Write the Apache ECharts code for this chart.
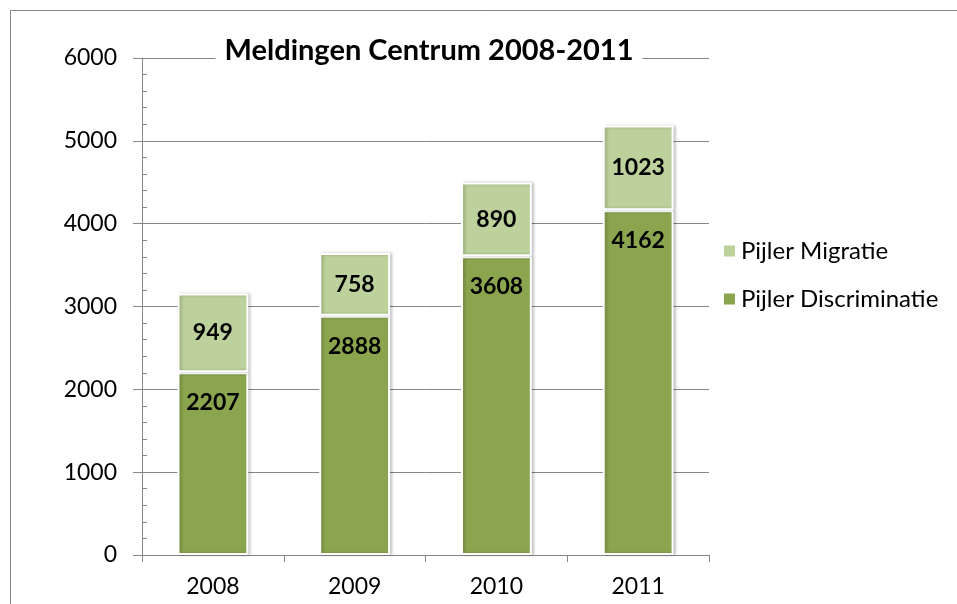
<!DOCTYPE html>
<html>
<head>
<meta charset="utf-8">
<script src="https://cdn.jsdelivr.net/npm/echarts@6/dist/echarts.min.js"></script>
<style>
  html, body { margin: 0; padding: 0; background: #fff; }
  #main { width: 957px; height: 604px; }
</style>
</head>
<body>
<div id="main"></div>
<script>
const years = ['2008', '2009', '2010', '2011'];
const discriminatie = [2207, 2888, 3608, 4162];
const migratie = [949, 758, 890, 1023];
const yTicks = { min: 0, max: 6000, interval: 1000 };

const font = 'Lato, "Open Sans", sans-serif';
const axisGray = '#868686';

const chart = echarts.init(document.getElementById('main'));

const option = {
  backgroundColor: '#fff',
  animation: false,
  textStyle: { fontFamily: font },
  title: {
    text: 'Meldingen Centrum 2008-2011',
    left: 420,
    textAlign: 'center',
    top: 36,
    padding: [0, 9],
    backgroundColor: '#fff',
    textStyle: { fontFamily: font, fontSize: 29, fontWeight: 'bold', color: '#000' }
  },
  graphic: [
    {
      type: 'rect',
      shape: { x: 10.5, y: 10.5, width: 1000, height: 1000 },
      style: { fill: 'none', stroke: axisGray, lineWidth: 1 },
      silent: true,
      z: -10
    }
  ],
  legend: {
    orient: 'vertical',
    left: 717,
    top: 234,
    itemGap: 24,
    itemWidth: 13,
    itemHeight: 13,
    icon: 'rect',
    data: ['Pijler Migratie', 'Pijler Discriminatie'],
    textStyle: { fontFamily: font, fontSize: 24, color: '#000' }
  },
  grid: { left: 142, right: 248, top: 58, bottom: 49 },
  xAxis: {
    type: 'category',
    data: years,
    axisLine: { lineStyle: { color: axisGray } },
    axisTick: { show: true, length: 7, lineStyle: { color: axisGray } },
    axisLabel: { color: '#000', fontSize: 23, margin: 20, fontFamily: font }
  },
  yAxis: [
    {
      type: 'value',
      min: yTicks.min,
      max: yTicks.max,
      interval: yTicks.interval,
      axisLine: { show: true, lineStyle: { color: axisGray } },
      axisTick: { show: true, length: 9, lineStyle: { color: axisGray } },
      axisLabel: { color: '#000', fontSize: 23, margin: 25, fontFamily: font, formatter: v => String(v) },
      splitLine: { show: true, lineStyle: { color: axisGray, width: 1 } }
    },
    {
      type: 'value',
      position: 'left',
      min: yTicks.min,
      max: yTicks.max,
      interval: yTicks.interval,
      axisLine: { show: false },
      axisTick: { show: false, inside: true },
      axisLabel: { show: false },
      splitLine: { show: false },
      minorTick: { show: true, splitNumber: 5, length: 5, lineStyle: { color: axisGray } }
    }
  ],
  series: [
    {
      name: 'Pijler Discriminatie',
      type: 'bar',
      stack: 'total',
      barWidth: '50%',
      data: discriminatie,
      itemStyle: {
        color: '#8ba54f',
        borderColor: '#fff',
        borderWidth: 2,
        shadowColor: 'rgba(0,0,0,0.22)',
        shadowBlur: 3,
        shadowOffsetX: 2
      },
      label: {
        show: true,
        position: 'insideTop',
        distance: 19,
        color: '#000',
        fontWeight: 'bold',
        fontSize: 23,
        fontFamily: font
      }
    },
    {
      name: 'Pijler Migratie',
      type: 'bar',
      stack: 'total',
      barWidth: '50%',
      data: migratie,
      itemStyle: {
        color: '#bcd19b',
        borderColor: '#fff',
        borderWidth: 2,
        shadowColor: 'rgba(0,0,0,0.22)',
        shadowBlur: 3,
        shadowOffsetX: 2
      },
      label: {
        show: true,
        position: 'inside',
        color: '#000',
        fontWeight: 'bold',
        fontSize: 23,
        fontFamily: font
      }
    }
  ]
};

chart.setOption(option);
window.addEventListener('resize', () => chart.resize());
</script>
</body>
</html>
